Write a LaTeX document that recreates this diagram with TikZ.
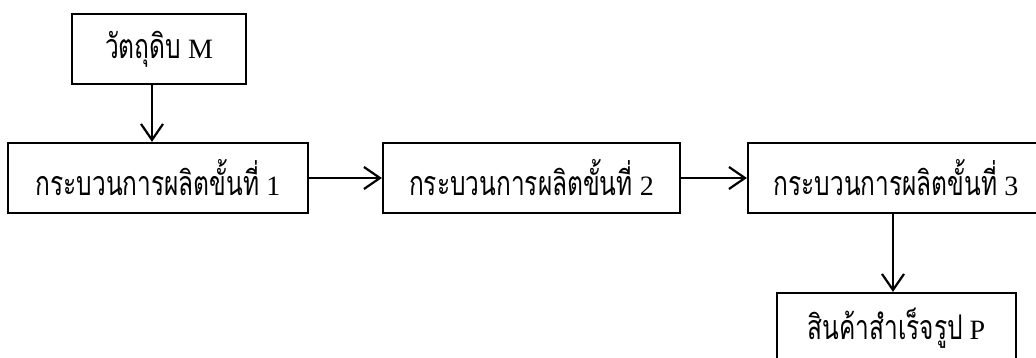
\documentclass[tikz,border=0pt]{standalone}
\usepackage{fontspec}
\setmainfont{Liberation Serif}
\newfontfamily\thaifont[Script=Thai,FakeStretch=0.72]{Loma}
\usetikzlibrary{arrows.meta,calc}
\tikzset{
  box/.style={draw=black,line width=2.2pt,minimum height=70pt,inner sep=0pt,font=\fontsize{28}{32}\selectfont},
  arr/.style={line width=2.2pt,-{Straight Barb[length=16pt,width=22pt,line width=2.2pt]}}
}
\newcommand{\thtxt}[1]{{\thaifont\fontsize{34}{38}\selectfont #1}}
\begin{document}
\begin{tikzpicture}[x=1pt,y=-1pt]
\useasboundingbox (0,0) rectangle (1036,358);
\node[box,minimum width=174pt] (m) at (159,49) {\thtxt{วัตถุดิบ} M};
\node[box,minimum width=300pt] (p1) at (158,178) {\thtxt{กระบวนการผลิตขั้นที่} 1};
\node[box,minimum width=297pt] (p2) at (531.5,178) {\thtxt{กระบวนการผลิตขั้นที่} 2};
\node[box,minimum width=296pt] (p3) at (896,178) {\thtxt{กระบวนการผลิตขั้นที่} 3};
\node[box,minimum width=239pt] (fp) at (896.5,328) {\thtxt{สินค้าสำเร็จรูป} P};
\draw[arr] ([xshift=-7pt]m.south) -- ([xshift=-7pt]m.south |- p1.north);
\draw[arr] (p1.east) -- (p2.west);
\draw[arr] (p2.east) -- (p3.west);
\draw[arr] ([xshift=-3pt]p3.south) -- ([xshift=-3pt]p3.south |- fp.north);
\end{tikzpicture}
\end{document}
